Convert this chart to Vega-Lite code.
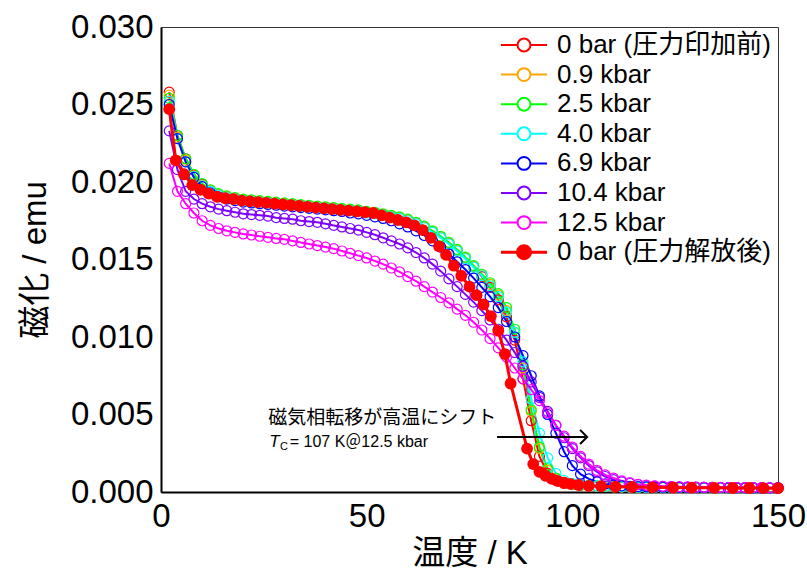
{
"$schema":"https://vega.github.io/schema/vega-lite/v6.json",
"width":617,"height":465,
"autosize":{"type":"none"},
"padding":{"left":161,"top":27,"right":29,"bottom":89},
"background":"white",
"config":{"view":{"stroke":"#333333","strokeWidth":1},"font":"Liberation Sans, Noto Sans CJK JP"},
"datasets":{
"curves":[
{"s":"0 bar (圧力印加前)","T":2,"M":0.0258},{"s":"0 bar (圧力印加前)","T":4,"M":0.023},{"s":"0 bar (圧力印加前)","T":6,"M":0.0215},{"s":"0 bar (圧力印加前)","T":8,"M":0.02045},{"s":"0 bar (圧力印加前)","T":10,"M":0.01985},{"s":"0 bar (圧力印加前)","T":12,"M":0.01945},{"s":"0 bar (圧力印加前)","T":14,"M":0.0192},{"s":"0 bar (圧力印加前)","T":16,"M":0.01905},{"s":"0 bar (圧力印加前)","T":18,"M":0.01895},{"s":"0 bar (圧力印加前)","T":20,"M":0.01885},{"s":"0 bar (圧力印加前)","T":22,"M":0.0188},{"s":"0 bar (圧力印加前)","T":24,"M":0.01875},{"s":"0 bar (圧力印加前)","T":26,"M":0.0187},{"s":"0 bar (圧力印加前)","T":28,"M":0.01865},{"s":"0 bar (圧力印加前)","T":30,"M":0.0186},{"s":"0 bar (圧力印加前)","T":32,"M":0.01855},{"s":"0 bar (圧力印加前)","T":34,"M":0.0185},{"s":"0 bar (圧力印加前)","T":36,"M":0.01845},{"s":"0 bar (圧力印加前)","T":38,"M":0.0184},{"s":"0 bar (圧力印加前)","T":40,"M":0.01835},{"s":"0 bar (圧力印加前)","T":42,"M":0.0183},{"s":"0 bar (圧力印加前)","T":44,"M":0.01825},{"s":"0 bar (圧力印加前)","T":46,"M":0.0182},{"s":"0 bar (圧力印加前)","T":48,"M":0.01815},{"s":"0 bar (圧力印加前)","T":50,"M":0.01805},{"s":"0 bar (圧力印加前)","T":52,"M":0.018},{"s":"0 bar (圧力印加前)","T":54,"M":0.0179},{"s":"0 bar (圧力印加前)","T":56,"M":0.0178},{"s":"0 bar (圧力印加前)","T":58,"M":0.0177},{"s":"0 bar (圧力印加前)","T":60,"M":0.01755},{"s":"0 bar (圧力印加前)","T":62,"M":0.01735},{"s":"0 bar (圧力印加前)","T":64,"M":0.0171},{"s":"0 bar (圧力印加前)","T":66,"M":0.0168},{"s":"0 bar (圧力印加前)","T":68,"M":0.01645},{"s":"0 bar (圧力印加前)","T":70,"M":0.01605},{"s":"0 bar (圧力印加前)","T":72,"M":0.0156},{"s":"0 bar (圧力印加前)","T":74,"M":0.0151},{"s":"0 bar (圧力印加前)","T":76,"M":0.01455},{"s":"0 bar (圧力印加前)","T":78,"M":0.0139},{"s":"0 bar (圧力印加前)","T":80,"M":0.0132},{"s":"0 bar (圧力印加前)","T":82,"M":0.0124},{"s":"0 bar (圧力印加前)","T":84,"M":0.0113},{"s":"0 bar (圧力印加前)","T":86,"M":0.0098},{"s":"0 bar (圧力印加前)","T":88,"M":0.0073},{"s":"0 bar (圧力印加前)","T":90,"M":0.0046},{"s":"0 bar (圧力印加前)","T":92,"M":0.0023},{"s":"0 bar (圧力印加前)","T":94,"M":0.0012},{"s":"0 bar (圧力印加前)","T":96,"M":0.00075},{"s":"0 bar (圧力印加前)","T":98,"M":0.00055},{"s":"0 bar (圧力印加前)","T":100,"M":0.00048},{"s":"0 bar (圧力印加前)","T":102,"M":0.00043},{"s":"0 bar (圧力印加前)","T":104,"M":0.0004},{"s":"0 bar (圧力印加前)","T":106,"M":0.00037},{"s":"0 bar (圧力印加前)","T":108,"M":0.00035},{"s":"0 bar (圧力印加前)","T":110,"M":0.00033},{"s":"0 bar (圧力印加前)","T":112,"M":0.00032},{"s":"0 bar (圧力印加前)","T":114,"M":0.00031},{"s":"0 bar (圧力印加前)","T":116,"M":0.0003},{"s":"0 bar (圧力印加前)","T":118,"M":0.0003},{"s":"0 bar (圧力印加前)","T":120,"M":0.00029},{"s":"0 bar (圧力印加前)","T":122,"M":0.00029},{"s":"0 bar (圧力印加前)","T":124,"M":0.00029},{"s":"0 bar (圧力印加前)","T":126,"M":0.00028},{"s":"0 bar (圧力印加前)","T":128,"M":0.00028},{"s":"0 bar (圧力印加前)","T":130,"M":0.00028},{"s":"0 bar (圧力印加前)","T":132,"M":0.00027},{"s":"0 bar (圧力印加前)","T":134,"M":0.00027},{"s":"0 bar (圧力印加前)","T":136,"M":0.00027},{"s":"0 bar (圧力印加前)","T":138,"M":0.00026},{"s":"0 bar (圧力印加前)","T":140,"M":0.00026},{"s":"0 bar (圧力印加前)","T":142,"M":0.00026},{"s":"0 bar (圧力印加前)","T":144,"M":0.00025},{"s":"0 bar (圧力印加前)","T":146,"M":0.00025},{"s":"0 bar (圧力印加前)","T":148,"M":0.00025},{"s":"0 bar (圧力印加前)","T":150,"M":0.00025},
{"s":"0.9 kbar","T":2,"M":0.0256},{"s":"0.9 kbar","T":4,"M":0.0229},{"s":"0.9 kbar","T":6,"M":0.0214},{"s":"0.9 kbar","T":8,"M":0.0204},{"s":"0.9 kbar","T":10,"M":0.0198},{"s":"0.9 kbar","T":12,"M":0.01945},{"s":"0.9 kbar","T":14,"M":0.0192},{"s":"0.9 kbar","T":16,"M":0.01905},{"s":"0.9 kbar","T":18,"M":0.01895},{"s":"0.9 kbar","T":20,"M":0.01885},{"s":"0.9 kbar","T":22,"M":0.0188},{"s":"0.9 kbar","T":24,"M":0.01875},{"s":"0.9 kbar","T":26,"M":0.0187},{"s":"0.9 kbar","T":28,"M":0.01865},{"s":"0.9 kbar","T":30,"M":0.0186},{"s":"0.9 kbar","T":32,"M":0.01855},{"s":"0.9 kbar","T":34,"M":0.0185},{"s":"0.9 kbar","T":36,"M":0.01845},{"s":"0.9 kbar","T":38,"M":0.0184},{"s":"0.9 kbar","T":40,"M":0.01835},{"s":"0.9 kbar","T":42,"M":0.0183},{"s":"0.9 kbar","T":44,"M":0.01825},{"s":"0.9 kbar","T":46,"M":0.0182},{"s":"0.9 kbar","T":48,"M":0.01815},{"s":"0.9 kbar","T":50,"M":0.01805},{"s":"0.9 kbar","T":52,"M":0.018},{"s":"0.9 kbar","T":54,"M":0.0179},{"s":"0.9 kbar","T":56,"M":0.0178},{"s":"0.9 kbar","T":58,"M":0.0177},{"s":"0.9 kbar","T":60,"M":0.01755},{"s":"0.9 kbar","T":62,"M":0.01735},{"s":"0.9 kbar","T":64,"M":0.0171},{"s":"0.9 kbar","T":66,"M":0.0168},{"s":"0.9 kbar","T":68,"M":0.01645},{"s":"0.9 kbar","T":70,"M":0.01605},{"s":"0.9 kbar","T":72,"M":0.0156},{"s":"0.9 kbar","T":74,"M":0.0151},{"s":"0.9 kbar","T":76,"M":0.01455},{"s":"0.9 kbar","T":78,"M":0.014},{"s":"0.9 kbar","T":80,"M":0.0134},{"s":"0.9 kbar","T":82,"M":0.0127},{"s":"0.9 kbar","T":84,"M":0.0117},{"s":"0.9 kbar","T":86,"M":0.0103},{"s":"0.9 kbar","T":88,"M":0.008},{"s":"0.9 kbar","T":90,"M":0.0052},{"s":"0.9 kbar","T":92,"M":0.0028},{"s":"0.9 kbar","T":94,"M":0.0014},{"s":"0.9 kbar","T":96,"M":0.00085},{"s":"0.9 kbar","T":98,"M":0.0006},{"s":"0.9 kbar","T":100,"M":0.0005},{"s":"0.9 kbar","T":102,"M":0.00045},{"s":"0.9 kbar","T":104,"M":0.0004},{"s":"0.9 kbar","T":106,"M":0.00038},{"s":"0.9 kbar","T":108,"M":0.00036},{"s":"0.9 kbar","T":110,"M":0.00034},{"s":"0.9 kbar","T":112,"M":0.00033},{"s":"0.9 kbar","T":114,"M":0.00032},{"s":"0.9 kbar","T":116,"M":0.00031},{"s":"0.9 kbar","T":118,"M":0.0003},{"s":"0.9 kbar","T":120,"M":0.0003},{"s":"0.9 kbar","T":122,"M":0.00029},{"s":"0.9 kbar","T":124,"M":0.00029},{"s":"0.9 kbar","T":126,"M":0.00028},{"s":"0.9 kbar","T":128,"M":0.00028},{"s":"0.9 kbar","T":130,"M":0.00028},{"s":"0.9 kbar","T":132,"M":0.00027},{"s":"0.9 kbar","T":134,"M":0.00027},{"s":"0.9 kbar","T":136,"M":0.00027},{"s":"0.9 kbar","T":138,"M":0.00026},{"s":"0.9 kbar","T":140,"M":0.00026},{"s":"0.9 kbar","T":142,"M":0.00026},{"s":"0.9 kbar","T":144,"M":0.00025},{"s":"0.9 kbar","T":146,"M":0.00025},{"s":"0.9 kbar","T":148,"M":0.00025},{"s":"0.9 kbar","T":150,"M":0.00025},
{"s":"2.5 kbar","T":2,"M":0.0254},{"s":"2.5 kbar","T":4,"M":0.023},{"s":"2.5 kbar","T":6,"M":0.0215},{"s":"2.5 kbar","T":8,"M":0.0205},{"s":"2.5 kbar","T":10,"M":0.0199},{"s":"2.5 kbar","T":12,"M":0.0195},{"s":"2.5 kbar","T":14,"M":0.01925},{"s":"2.5 kbar","T":16,"M":0.0191},{"s":"2.5 kbar","T":18,"M":0.019},{"s":"2.5 kbar","T":20,"M":0.0189},{"s":"2.5 kbar","T":22,"M":0.01885},{"s":"2.5 kbar","T":24,"M":0.0188},{"s":"2.5 kbar","T":26,"M":0.01875},{"s":"2.5 kbar","T":28,"M":0.0187},{"s":"2.5 kbar","T":30,"M":0.01865},{"s":"2.5 kbar","T":32,"M":0.0186},{"s":"2.5 kbar","T":34,"M":0.01855},{"s":"2.5 kbar","T":36,"M":0.0185},{"s":"2.5 kbar","T":38,"M":0.01845},{"s":"2.5 kbar","T":40,"M":0.0184},{"s":"2.5 kbar","T":42,"M":0.01835},{"s":"2.5 kbar","T":44,"M":0.0183},{"s":"2.5 kbar","T":46,"M":0.01825},{"s":"2.5 kbar","T":48,"M":0.0182},{"s":"2.5 kbar","T":50,"M":0.0181},{"s":"2.5 kbar","T":52,"M":0.01805},{"s":"2.5 kbar","T":54,"M":0.01795},{"s":"2.5 kbar","T":56,"M":0.01785},{"s":"2.5 kbar","T":58,"M":0.01775},{"s":"2.5 kbar","T":60,"M":0.0176},{"s":"2.5 kbar","T":62,"M":0.0174},{"s":"2.5 kbar","T":64,"M":0.01715},{"s":"2.5 kbar","T":66,"M":0.01685},{"s":"2.5 kbar","T":68,"M":0.0165},{"s":"2.5 kbar","T":70,"M":0.0161},{"s":"2.5 kbar","T":72,"M":0.01565},{"s":"2.5 kbar","T":74,"M":0.01515},{"s":"2.5 kbar","T":76,"M":0.0146},{"s":"2.5 kbar","T":78,"M":0.01405},{"s":"2.5 kbar","T":80,"M":0.0135},{"s":"2.5 kbar","T":82,"M":0.0128},{"s":"2.5 kbar","T":84,"M":0.0119},{"s":"2.5 kbar","T":86,"M":0.0105},{"s":"2.5 kbar","T":88,"M":0.0082},{"s":"2.5 kbar","T":90,"M":0.0053},{"s":"2.5 kbar","T":92,"M":0.0029},{"s":"2.5 kbar","T":94,"M":0.0015},{"s":"2.5 kbar","T":96,"M":0.0009},{"s":"2.5 kbar","T":98,"M":0.00062},{"s":"2.5 kbar","T":100,"M":0.00052},{"s":"2.5 kbar","T":102,"M":0.00046},{"s":"2.5 kbar","T":104,"M":0.00041},{"s":"2.5 kbar","T":106,"M":0.00039},{"s":"2.5 kbar","T":108,"M":0.00037},{"s":"2.5 kbar","T":110,"M":0.00035},{"s":"2.5 kbar","T":112,"M":0.00034},{"s":"2.5 kbar","T":114,"M":0.00033},{"s":"2.5 kbar","T":116,"M":0.00032},{"s":"2.5 kbar","T":118,"M":0.00031},{"s":"2.5 kbar","T":120,"M":0.00031},{"s":"2.5 kbar","T":122,"M":0.0003},{"s":"2.5 kbar","T":124,"M":0.0003},{"s":"2.5 kbar","T":126,"M":0.00029},{"s":"2.5 kbar","T":128,"M":0.00029},{"s":"2.5 kbar","T":130,"M":0.00029},{"s":"2.5 kbar","T":132,"M":0.00028},{"s":"2.5 kbar","T":134,"M":0.00028},{"s":"2.5 kbar","T":136,"M":0.00028},{"s":"2.5 kbar","T":138,"M":0.00027},{"s":"2.5 kbar","T":140,"M":0.00027},{"s":"2.5 kbar","T":142,"M":0.00027},{"s":"2.5 kbar","T":144,"M":0.00026},{"s":"2.5 kbar","T":146,"M":0.00026},{"s":"2.5 kbar","T":148,"M":0.00026},{"s":"2.5 kbar","T":150,"M":0.00026},
{"s":"4.0 kbar","T":2,"M":0.0252},{"s":"4.0 kbar","T":4,"M":0.0228},{"s":"4.0 kbar","T":6,"M":0.0213},{"s":"4.0 kbar","T":8,"M":0.02035},{"s":"4.0 kbar","T":10,"M":0.01975},{"s":"4.0 kbar","T":12,"M":0.0194},{"s":"4.0 kbar","T":14,"M":0.01915},{"s":"4.0 kbar","T":16,"M":0.019},{"s":"4.0 kbar","T":18,"M":0.0189},{"s":"4.0 kbar","T":20,"M":0.0188},{"s":"4.0 kbar","T":22,"M":0.01875},{"s":"4.0 kbar","T":24,"M":0.0187},{"s":"4.0 kbar","T":26,"M":0.01865},{"s":"4.0 kbar","T":28,"M":0.0186},{"s":"4.0 kbar","T":30,"M":0.01855},{"s":"4.0 kbar","T":32,"M":0.0185},{"s":"4.0 kbar","T":34,"M":0.01845},{"s":"4.0 kbar","T":36,"M":0.0184},{"s":"4.0 kbar","T":38,"M":0.01835},{"s":"4.0 kbar","T":40,"M":0.0183},{"s":"4.0 kbar","T":42,"M":0.01825},{"s":"4.0 kbar","T":44,"M":0.0182},{"s":"4.0 kbar","T":46,"M":0.01815},{"s":"4.0 kbar","T":48,"M":0.0181},{"s":"4.0 kbar","T":50,"M":0.018},{"s":"4.0 kbar","T":52,"M":0.01795},{"s":"4.0 kbar","T":54,"M":0.01785},{"s":"4.0 kbar","T":56,"M":0.01775},{"s":"4.0 kbar","T":58,"M":0.01765},{"s":"4.0 kbar","T":60,"M":0.0175},{"s":"4.0 kbar","T":62,"M":0.0173},{"s":"4.0 kbar","T":64,"M":0.01705},{"s":"4.0 kbar","T":66,"M":0.01675},{"s":"4.0 kbar","T":68,"M":0.0164},{"s":"4.0 kbar","T":70,"M":0.016},{"s":"4.0 kbar","T":72,"M":0.01555},{"s":"4.0 kbar","T":74,"M":0.01505},{"s":"4.0 kbar","T":76,"M":0.0145},{"s":"4.0 kbar","T":78,"M":0.01395},{"s":"4.0 kbar","T":80,"M":0.0133},{"s":"4.0 kbar","T":82,"M":0.0126},{"s":"4.0 kbar","T":84,"M":0.0116},{"s":"4.0 kbar","T":86,"M":0.0103},{"s":"4.0 kbar","T":88,"M":0.0084},{"s":"4.0 kbar","T":90,"M":0.006},{"s":"4.0 kbar","T":92,"M":0.0038},{"s":"4.0 kbar","T":94,"M":0.0022},{"s":"4.0 kbar","T":96,"M":0.0012},{"s":"4.0 kbar","T":98,"M":0.00075},{"s":"4.0 kbar","T":100,"M":0.00055},{"s":"4.0 kbar","T":102,"M":0.00047},{"s":"4.0 kbar","T":104,"M":0.00042},{"s":"4.0 kbar","T":106,"M":0.00039},{"s":"4.0 kbar","T":108,"M":0.00037},{"s":"4.0 kbar","T":110,"M":0.00035},{"s":"4.0 kbar","T":112,"M":0.00033},{"s":"4.0 kbar","T":114,"M":0.00032},{"s":"4.0 kbar","T":116,"M":0.00031},{"s":"4.0 kbar","T":118,"M":0.0003},{"s":"4.0 kbar","T":120,"M":0.0003},{"s":"4.0 kbar","T":122,"M":0.00029},{"s":"4.0 kbar","T":124,"M":0.00029},{"s":"4.0 kbar","T":126,"M":0.00028},{"s":"4.0 kbar","T":128,"M":0.00028},{"s":"4.0 kbar","T":130,"M":0.00028},{"s":"4.0 kbar","T":132,"M":0.00027},{"s":"4.0 kbar","T":134,"M":0.00027},{"s":"4.0 kbar","T":136,"M":0.00027},{"s":"4.0 kbar","T":138,"M":0.00026},{"s":"4.0 kbar","T":140,"M":0.00026},{"s":"4.0 kbar","T":142,"M":0.00026},{"s":"4.0 kbar","T":144,"M":0.00025},{"s":"4.0 kbar","T":146,"M":0.00025},{"s":"4.0 kbar","T":148,"M":0.00025},{"s":"4.0 kbar","T":150,"M":0.00025},
{"s":"6.9 kbar","T":2,"M":0.025},{"s":"6.9 kbar","T":4,"M":0.0228},{"s":"6.9 kbar","T":6,"M":0.0213},{"s":"6.9 kbar","T":8,"M":0.0203},{"s":"6.9 kbar","T":10,"M":0.0197},{"s":"6.9 kbar","T":12,"M":0.0193},{"s":"6.9 kbar","T":14,"M":0.01905},{"s":"6.9 kbar","T":16,"M":0.0189},{"s":"6.9 kbar","T":18,"M":0.0188},{"s":"6.9 kbar","T":20,"M":0.0187},{"s":"6.9 kbar","T":22,"M":0.01865},{"s":"6.9 kbar","T":24,"M":0.0186},{"s":"6.9 kbar","T":26,"M":0.01855},{"s":"6.9 kbar","T":28,"M":0.0185},{"s":"6.9 kbar","T":30,"M":0.01845},{"s":"6.9 kbar","T":32,"M":0.0184},{"s":"6.9 kbar","T":34,"M":0.01835},{"s":"6.9 kbar","T":36,"M":0.0183},{"s":"6.9 kbar","T":38,"M":0.01825},{"s":"6.9 kbar","T":40,"M":0.0182},{"s":"6.9 kbar","T":42,"M":0.01815},{"s":"6.9 kbar","T":44,"M":0.0181},{"s":"6.9 kbar","T":46,"M":0.018},{"s":"6.9 kbar","T":48,"M":0.01795},{"s":"6.9 kbar","T":50,"M":0.01785},{"s":"6.9 kbar","T":52,"M":0.01775},{"s":"6.9 kbar","T":54,"M":0.01765},{"s":"6.9 kbar","T":56,"M":0.0175},{"s":"6.9 kbar","T":58,"M":0.0173},{"s":"6.9 kbar","T":60,"M":0.0171},{"s":"6.9 kbar","T":62,"M":0.01685},{"s":"6.9 kbar","T":64,"M":0.01655},{"s":"6.9 kbar","T":66,"M":0.0162},{"s":"6.9 kbar","T":68,"M":0.0158},{"s":"6.9 kbar","T":70,"M":0.01535},{"s":"6.9 kbar","T":72,"M":0.01485},{"s":"6.9 kbar","T":74,"M":0.01435},{"s":"6.9 kbar","T":76,"M":0.0138},{"s":"6.9 kbar","T":78,"M":0.0132},{"s":"6.9 kbar","T":80,"M":0.0126},{"s":"6.9 kbar","T":82,"M":0.0119},{"s":"6.9 kbar","T":84,"M":0.011},{"s":"6.9 kbar","T":86,"M":0.01},{"s":"6.9 kbar","T":88,"M":0.0088},{"s":"6.9 kbar","T":90,"M":0.0075},{"s":"6.9 kbar","T":92,"M":0.0062},{"s":"6.9 kbar","T":94,"M":0.005},{"s":"6.9 kbar","T":96,"M":0.0038},{"s":"6.9 kbar","T":98,"M":0.0026},{"s":"6.9 kbar","T":100,"M":0.0017},{"s":"6.9 kbar","T":102,"M":0.00115},{"s":"6.9 kbar","T":104,"M":0.00085},{"s":"6.9 kbar","T":106,"M":0.00065},{"s":"6.9 kbar","T":108,"M":0.00052},{"s":"6.9 kbar","T":110,"M":0.00045},{"s":"6.9 kbar","T":112,"M":0.0004},{"s":"6.9 kbar","T":114,"M":0.00037},{"s":"6.9 kbar","T":116,"M":0.00035},{"s":"6.9 kbar","T":118,"M":0.00033},{"s":"6.9 kbar","T":120,"M":0.00032},{"s":"6.9 kbar","T":122,"M":0.00031},{"s":"6.9 kbar","T":124,"M":0.0003},{"s":"6.9 kbar","T":126,"M":0.0003},{"s":"6.9 kbar","T":128,"M":0.00029},{"s":"6.9 kbar","T":130,"M":0.00029},{"s":"6.9 kbar","T":132,"M":0.00028},{"s":"6.9 kbar","T":134,"M":0.00028},{"s":"6.9 kbar","T":136,"M":0.00028},{"s":"6.9 kbar","T":138,"M":0.00027},{"s":"6.9 kbar","T":140,"M":0.00027},{"s":"6.9 kbar","T":142,"M":0.00027},{"s":"6.9 kbar","T":144,"M":0.00026},{"s":"6.9 kbar","T":146,"M":0.00026},{"s":"6.9 kbar","T":148,"M":0.00026},{"s":"6.9 kbar","T":150,"M":0.00026},
{"s":"10.4 kbar","T":2,"M":0.0233},{"s":"10.4 kbar","T":4,"M":0.0208},{"s":"10.4 kbar","T":6,"M":0.0194},{"s":"10.4 kbar","T":8,"M":0.0189},{"s":"10.4 kbar","T":10,"M":0.0186},{"s":"10.4 kbar","T":12,"M":0.0184},{"s":"10.4 kbar","T":14,"M":0.01825},{"s":"10.4 kbar","T":16,"M":0.01815},{"s":"10.4 kbar","T":18,"M":0.01805},{"s":"10.4 kbar","T":20,"M":0.01795},{"s":"10.4 kbar","T":22,"M":0.0179},{"s":"10.4 kbar","T":24,"M":0.01785},{"s":"10.4 kbar","T":26,"M":0.0178},{"s":"10.4 kbar","T":28,"M":0.0177},{"s":"10.4 kbar","T":30,"M":0.01765},{"s":"10.4 kbar","T":32,"M":0.0176},{"s":"10.4 kbar","T":34,"M":0.0175},{"s":"10.4 kbar","T":36,"M":0.01745},{"s":"10.4 kbar","T":38,"M":0.0174},{"s":"10.4 kbar","T":40,"M":0.0173},{"s":"10.4 kbar","T":42,"M":0.0172},{"s":"10.4 kbar","T":44,"M":0.0171},{"s":"10.4 kbar","T":46,"M":0.017},{"s":"10.4 kbar","T":48,"M":0.0169},{"s":"10.4 kbar","T":50,"M":0.01675},{"s":"10.4 kbar","T":52,"M":0.0166},{"s":"10.4 kbar","T":54,"M":0.0164},{"s":"10.4 kbar","T":56,"M":0.0162},{"s":"10.4 kbar","T":58,"M":0.016},{"s":"10.4 kbar","T":60,"M":0.01575},{"s":"10.4 kbar","T":62,"M":0.01545},{"s":"10.4 kbar","T":64,"M":0.0151},{"s":"10.4 kbar","T":66,"M":0.0147},{"s":"10.4 kbar","T":68,"M":0.01425},{"s":"10.4 kbar","T":70,"M":0.01375},{"s":"10.4 kbar","T":72,"M":0.01325},{"s":"10.4 kbar","T":74,"M":0.01275},{"s":"10.4 kbar","T":76,"M":0.01225},{"s":"10.4 kbar","T":78,"M":0.0117},{"s":"10.4 kbar","T":80,"M":0.0111},{"s":"10.4 kbar","T":82,"M":0.0105},{"s":"10.4 kbar","T":84,"M":0.0098},{"s":"10.4 kbar","T":86,"M":0.009},{"s":"10.4 kbar","T":88,"M":0.0081},{"s":"10.4 kbar","T":90,"M":0.0071},{"s":"10.4 kbar","T":92,"M":0.0061},{"s":"10.4 kbar","T":94,"M":0.0052},{"s":"10.4 kbar","T":96,"M":0.0043},{"s":"10.4 kbar","T":98,"M":0.0035},{"s":"10.4 kbar","T":100,"M":0.0028},{"s":"10.4 kbar","T":102,"M":0.0022},{"s":"10.4 kbar","T":104,"M":0.0017},{"s":"10.4 kbar","T":106,"M":0.0013},{"s":"10.4 kbar","T":108,"M":0.001},{"s":"10.4 kbar","T":110,"M":0.0008},{"s":"10.4 kbar","T":112,"M":0.00065},{"s":"10.4 kbar","T":114,"M":0.00055},{"s":"10.4 kbar","T":116,"M":0.00047},{"s":"10.4 kbar","T":118,"M":0.00042},{"s":"10.4 kbar","T":120,"M":0.00038},{"s":"10.4 kbar","T":122,"M":0.00036},{"s":"10.4 kbar","T":124,"M":0.00034},{"s":"10.4 kbar","T":126,"M":0.00033},{"s":"10.4 kbar","T":128,"M":0.00032},{"s":"10.4 kbar","T":130,"M":0.00031},{"s":"10.4 kbar","T":132,"M":0.0003},{"s":"10.4 kbar","T":134,"M":0.0003},{"s":"10.4 kbar","T":136,"M":0.00029},{"s":"10.4 kbar","T":138,"M":0.00029},{"s":"10.4 kbar","T":140,"M":0.00028},{"s":"10.4 kbar","T":142,"M":0.00028},{"s":"10.4 kbar","T":144,"M":0.00028},{"s":"10.4 kbar","T":146,"M":0.00027},{"s":"10.4 kbar","T":148,"M":0.00027},{"s":"10.4 kbar","T":150,"M":0.00027},
{"s":"12.5 kbar","T":2,"M":0.0212},{"s":"12.5 kbar","T":4,"M":0.0194},{"s":"12.5 kbar","T":6,"M":0.0186},{"s":"12.5 kbar","T":8,"M":0.018},{"s":"12.5 kbar","T":10,"M":0.0175},{"s":"12.5 kbar","T":12,"M":0.0172},{"s":"12.5 kbar","T":14,"M":0.017},{"s":"12.5 kbar","T":16,"M":0.01685},{"s":"12.5 kbar","T":18,"M":0.01675},{"s":"12.5 kbar","T":20,"M":0.01665},{"s":"12.5 kbar","T":22,"M":0.01658},{"s":"12.5 kbar","T":24,"M":0.0165},{"s":"12.5 kbar","T":26,"M":0.01643},{"s":"12.5 kbar","T":28,"M":0.01636},{"s":"12.5 kbar","T":30,"M":0.0163},{"s":"12.5 kbar","T":32,"M":0.0162},{"s":"12.5 kbar","T":34,"M":0.0161},{"s":"12.5 kbar","T":36,"M":0.016},{"s":"12.5 kbar","T":38,"M":0.0159},{"s":"12.5 kbar","T":40,"M":0.0158},{"s":"12.5 kbar","T":42,"M":0.0157},{"s":"12.5 kbar","T":44,"M":0.01555},{"s":"12.5 kbar","T":46,"M":0.0154},{"s":"12.5 kbar","T":48,"M":0.01525},{"s":"12.5 kbar","T":50,"M":0.0151},{"s":"12.5 kbar","T":52,"M":0.0149},{"s":"12.5 kbar","T":54,"M":0.0147},{"s":"12.5 kbar","T":56,"M":0.01445},{"s":"12.5 kbar","T":58,"M":0.0142},{"s":"12.5 kbar","T":60,"M":0.0139},{"s":"12.5 kbar","T":62,"M":0.0136},{"s":"12.5 kbar","T":64,"M":0.01325},{"s":"12.5 kbar","T":66,"M":0.0129},{"s":"12.5 kbar","T":68,"M":0.01255},{"s":"12.5 kbar","T":70,"M":0.0122},{"s":"12.5 kbar","T":72,"M":0.0118},{"s":"12.5 kbar","T":74,"M":0.0114},{"s":"12.5 kbar","T":76,"M":0.01095},{"s":"12.5 kbar","T":78,"M":0.01045},{"s":"12.5 kbar","T":80,"M":0.0099},{"s":"12.5 kbar","T":82,"M":0.0093},{"s":"12.5 kbar","T":84,"M":0.0087},{"s":"12.5 kbar","T":86,"M":0.008},{"s":"12.5 kbar","T":88,"M":0.0073},{"s":"12.5 kbar","T":90,"M":0.0066},{"s":"12.5 kbar","T":92,"M":0.0059},{"s":"12.5 kbar","T":94,"M":0.0051},{"s":"12.5 kbar","T":96,"M":0.0043},{"s":"12.5 kbar","T":98,"M":0.0036},{"s":"12.5 kbar","T":100,"M":0.0029},{"s":"12.5 kbar","T":102,"M":0.0023},{"s":"12.5 kbar","T":104,"M":0.0018},{"s":"12.5 kbar","T":106,"M":0.0014},{"s":"12.5 kbar","T":108,"M":0.0011},{"s":"12.5 kbar","T":110,"M":0.0009},{"s":"12.5 kbar","T":112,"M":0.00072},{"s":"12.5 kbar","T":114,"M":0.0006},{"s":"12.5 kbar","T":116,"M":0.0005},{"s":"12.5 kbar","T":118,"M":0.00044},{"s":"12.5 kbar","T":120,"M":0.0004},{"s":"12.5 kbar","T":122,"M":0.00037},{"s":"12.5 kbar","T":124,"M":0.00035},{"s":"12.5 kbar","T":126,"M":0.00034},{"s":"12.5 kbar","T":128,"M":0.00033},{"s":"12.5 kbar","T":130,"M":0.00032},{"s":"12.5 kbar","T":132,"M":0.00031},{"s":"12.5 kbar","T":134,"M":0.0003},{"s":"12.5 kbar","T":136,"M":0.0003},{"s":"12.5 kbar","T":138,"M":0.00029},{"s":"12.5 kbar","T":140,"M":0.00029},{"s":"12.5 kbar","T":142,"M":0.00028},{"s":"12.5 kbar","T":144,"M":0.00028},{"s":"12.5 kbar","T":146,"M":0.00028},{"s":"12.5 kbar","T":148,"M":0.00027},{"s":"12.5 kbar","T":150,"M":0.00027},
{"s":"0 bar (圧力解放後)","T":2,"M":0.0247},{"s":"0 bar (圧力解放後)","T":3.6,"M":0.0214},{"s":"0 bar (圧力解放後)","T":5.6,"M":0.0205},{"s":"0 bar (圧力解放後)","T":7.6,"M":0.0198},{"s":"0 bar (圧力解放後)","T":9.6,"M":0.0195},{"s":"0 bar (圧力解放後)","T":11.6,"M":0.01925},{"s":"0 bar (圧力解放後)","T":13.6,"M":0.01905},{"s":"0 bar (圧力解放後)","T":15.6,"M":0.01895},{"s":"0 bar (圧力解放後)","T":17.6,"M":0.0189},{"s":"0 bar (圧力解放後)","T":19.6,"M":0.0188},{"s":"0 bar (圧力解放後)","T":21.6,"M":0.01875},{"s":"0 bar (圧力解放後)","T":23.6,"M":0.0187},{"s":"0 bar (圧力解放後)","T":25.6,"M":0.01865},{"s":"0 bar (圧力解放後)","T":27.6,"M":0.0186},{"s":"0 bar (圧力解放後)","T":29.6,"M":0.01855},{"s":"0 bar (圧力解放後)","T":31.6,"M":0.0185},{"s":"0 bar (圧力解放後)","T":33.6,"M":0.01845},{"s":"0 bar (圧力解放後)","T":35.6,"M":0.0184},{"s":"0 bar (圧力解放後)","T":37.6,"M":0.01835},{"s":"0 bar (圧力解放後)","T":39.6,"M":0.0183},{"s":"0 bar (圧力解放後)","T":41.6,"M":0.01825},{"s":"0 bar (圧力解放後)","T":43.6,"M":0.0182},{"s":"0 bar (圧力解放後)","T":45.6,"M":0.01815},{"s":"0 bar (圧力解放後)","T":47.6,"M":0.0181},{"s":"0 bar (圧力解放後)","T":49.6,"M":0.01805},{"s":"0 bar (圧力解放後)","T":51.6,"M":0.018},{"s":"0 bar (圧力解放後)","T":53.6,"M":0.01785},{"s":"0 bar (圧力解放後)","T":55.6,"M":0.0177},{"s":"0 bar (圧力解放後)","T":57.6,"M":0.01755},{"s":"0 bar (圧力解放後)","T":59.6,"M":0.0174},{"s":"0 bar (圧力解放後)","T":61.6,"M":0.0172},{"s":"0 bar (圧力解放後)","T":63.6,"M":0.0169},{"s":"0 bar (圧力解放後)","T":65.6,"M":0.0164},{"s":"0 bar (圧力解放後)","T":67.6,"M":0.01585},{"s":"0 bar (圧力解放後)","T":69.3,"M":0.0153},{"s":"0 bar (圧力解放後)","T":71.2,"M":0.0146},{"s":"0 bar (圧力解放後)","T":73,"M":0.01395},{"s":"0 bar (圧力解放後)","T":75,"M":0.01325},{"s":"0 bar (圧力解放後)","T":76.7,"M":0.0127},{"s":"0 bar (圧力解放後)","T":78.4,"M":0.0121},{"s":"0 bar (圧力解放後)","T":80.2,"M":0.01135},{"s":"0 bar (圧力解放後)","T":82,"M":0.0104},{"s":"0 bar (圧力解放後)","T":83.6,"M":0.0089},{"s":"0 bar (圧力解放後)","T":85,"M":0.007},{"s":"0 bar (圧力解放後)","T":89,"M":0.0028},{"s":"0 bar (圧力解放後)","T":90.5,"M":0.0018},{"s":"0 bar (圧力解放後)","T":92,"M":0.0013},{"s":"0 bar (圧力解放後)","T":93.5,"M":0.00105},{"s":"0 bar (圧力解放後)","T":95,"M":0.00085},{"s":"0 bar (圧力解放後)","T":96.5,"M":0.0007},{"s":"0 bar (圧力解放後)","T":98,"M":0.0006},{"s":"0 bar (圧力解放後)","T":99.5,"M":0.00052},{"s":"0 bar (圧力解放後)","T":101.5,"M":0.00045},{"s":"0 bar (圧力解放後)","T":104,"M":0.0004},{"s":"0 bar (圧力解放後)","T":107,"M":0.00037},{"s":"0 bar (圧力解放後)","T":110.5,"M":0.00034},{"s":"0 bar (圧力解放後)","T":114.5,"M":0.00032},{"s":"0 bar (圧力解放後)","T":119.5,"M":0.0003},{"s":"0 bar (圧力解放後)","T":124.5,"M":0.00029},{"s":"0 bar (圧力解放後)","T":129,"M":0.00028},{"s":"0 bar (圧力解放後)","T":134.5,"M":0.00027},{"s":"0 bar (圧力解放後)","T":139,"M":0.00026},{"s":"0 bar (圧力解放後)","T":143,"M":0.00026},{"s":"0 bar (圧力解放後)","T":146.5,"M":0.00025},{"s":"0 bar (圧力解放後)","T":150,"M":0.00025}
],
"ann":[
{"k":"line1","T":26.1,"M":0.00477,"txt":"磁気相転移が高温にシフト"},
{"k":"ti","T":26.3,"M":0.00323,"txt":"T"},
{"k":"sub","T":28.9,"M":0.0029,"txt":"C"},
{"k":"rest","T":31.3,"M":0.00323,"txt":"= 107 K＠12.5 kbar"},
{"k":"arrow","T":81.7,"T2":103.2,"M":0.00355},
{"k":"head","T":103.6,"M":0.00355}
]
},
"encoding":{
"x":{"field":"T","type":"quantitative","title":"温度 / K",
 "scale":{"domain":[0,150],"nice":false,"zero":false},
 "axis":{"values":[0,10,20,30,40,50,60,70,80,90,100,110,120,130,140,150],
  "labelExpr":"datum.value % 50 === 0 ? datum.label : ''",
  "tickSize":0,
  "encode":{"ticks":{"update":{"y2":{"signal":"datum.value % 50 === 0 ? -12 : -8"}}}},
  "tickColor":"black","tickWidth":1.5,"domainColor":"black","domainWidth":2,"grid":false,
  "labelFont":"Liberation Sans","labelFontSize":33,"labelColor":"black","labelPadding":8,"labelFlush":false,"labelOverlap":false,
  "titleFont":"Liberation Sans, Noto Sans CJK JP","titleFontSize":33,"titleFontWeight":"normal","titleColor":"black","titlePadding":4}},
"y":{"field":"M","type":"quantitative","title":"磁化 / emu",
 "scale":{"domain":[0,0.03],"nice":false,"zero":false},
 "axis":{"values":[0,0.001,0.002,0.003,0.004,0.005,0.006,0.007,0.008,0.009,0.01,0.011,0.012,0.013,0.014,0.015,0.016,0.017,0.018,0.019,0.02,0.021,0.022,0.023,0.024,0.025,0.026,0.027,0.028,0.029,0.03],
  "format":".3f",
  "labelExpr":"round(datum.value*1000) % 5 === 0 ? datum.label : ''",
  "tickSize":0,
  "encode":{"ticks":{"update":{"x2":{"signal":"round(datum.value*1000) % 5 === 0 ? 12 : 8"}}}},
  "tickColor":"black","tickWidth":1.5,"domainColor":"black","domainWidth":2,"grid":false,
  "labelFont":"Liberation Sans","labelFontSize":33,"labelColor":"black","labelPadding":8,"labelOverlap":false,
  "titleFont":"Liberation Sans, Noto Sans CJK JP","titleFontSize":33,"titleFontWeight":"normal","titleColor":"black","titlePadding":18}}
},
"layer":[
{"data":{"name":"curves"},
 "layer":[
  {"transform":[{"filter":"datum.s !== '0 bar (圧力解放後)'"}],"mark":{"type":"line","strokeWidth":2},
   "encoding":{"color":{"field":"s","type":"nominal",
    "scale":{"domain":["0 bar (圧力印加前)","0.9 kbar","2.5 kbar","4.0 kbar","6.9 kbar","10.4 kbar","12.5 kbar","0 bar (圧力解放後)"],
     "range":["#ff0000","#ffa500","#00ff00","#00ffff","#0000ff","#8000ff","#ff00ff","#ff0000"]},
    "legend":{"orient":"none","legendX":350,"legendY":5,"title":null,"padding":0,
     "symbolType":"M-2.5,0H-0.7M0.7,0H2.5M0.7,0A0.7,0.7 0 1,1 -0.7,0A0.7,0.7 0 1,1 0.7,0",
     "symbolSize":340,"symbolStrokeWidth":2,"labelFont":"Liberation Sans, Noto Sans CJK JP","labelFontSize":26,"labelColor":"black","labelOffset":20,"labelLimit":400,"rowPadding":3.6,
     "encode":{"symbols":{"update":{"fill":{"signal":"datum.value === '0 bar (圧力解放後)' ? '#ff0000' : 'transparent'"},"strokeWidth":{"signal":"datum.value === '0 bar (圧力解放後)' ? 3 : 2"},"opacity":{"value":1}}}}}}}},
  {"transform":[{"filter":"datum.s !== '0 bar (圧力解放後)'"}],"mark":{"type":"point","filled":false,"size":100,"strokeWidth":1.2,"opacity":1},
   "encoding":{"color":{"field":"s","type":"nominal"}}},
  {"transform":[{"filter":"datum.s === '0 bar (圧力解放後)'"}],"mark":{"type":"line","strokeWidth":3},
   "encoding":{"color":{"field":"s","type":"nominal"}}},
  {"transform":[{"filter":"datum.s === '0 bar (圧力解放後)'"}],"mark":{"type":"point","filled":true,"size":140,"opacity":1,"color":"#ff0000"}}
 ]},
{"data":{"name":"ann"},"transform":[{"filter":"datum.k === 'line1'"}],"mark":{"type":"text","align":"left","baseline":"middle","font":"Noto Sans CJK JP","fontSize":19,"color":"black"},"encoding":{"text":{"field":"txt"}}},
{"data":{"name":"ann"},"transform":[{"filter":"datum.k === 'ti'"}],"mark":{"type":"text","align":"left","baseline":"middle","font":"Liberation Sans","fontStyle":"italic","fontSize":17,"color":"black"},"encoding":{"text":{"field":"txt"}}},
{"data":{"name":"ann"},"transform":[{"filter":"datum.k === 'sub'"}],"mark":{"type":"text","align":"left","baseline":"middle","font":"Liberation Sans","fontSize":11,"color":"black"},"encoding":{"text":{"field":"txt"}}},
{"data":{"name":"ann"},"transform":[{"filter":"datum.k === 'rest'"}],"mark":{"type":"text","align":"left","baseline":"middle","font":"Liberation Sans, Noto Sans CJK JP","fontSize":16,"color":"black"},"encoding":{"text":{"field":"txt"}}},
{"data":{"name":"ann"},"transform":[{"filter":"datum.k === 'arrow'"}],"mark":{"type":"rule","color":"black","strokeWidth":2},"encoding":{"x2":{"field":"T2"}}},
{"data":{"name":"ann"},"transform":[{"filter":"datum.k === 'head'"}],"mark":{"type":"point","shape":"M-1,-1L0,0L-1,1","filled":false,"size":200,"color":"black","strokeWidth":2,"opacity":1}}
]
}
